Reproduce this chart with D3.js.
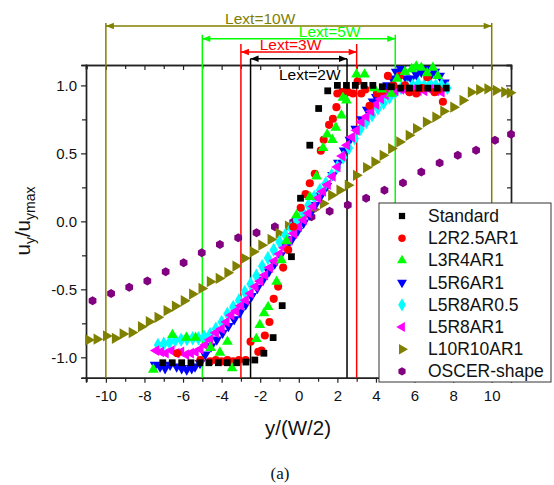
<!DOCTYPE html>
<html><head><meta charset="utf-8">
<script src="https://cdn.jsdelivr.net/npm/d3@7"></script>
<style>body{margin:0;background:#fff}svg{display:block}</style>
</head><body>
<script>
// ---------------- data ----------------
const stdX = [-7.05,-6.56,-6.07,-5.59,-5.12,-4.66,-4.17,-3.71,-3.22,-2.74,-2.28,-1.81,-1.33,-0.86,-0.38,0.09,0.57,1.03,1.50,2.0,2.47,2.93,3.38,3.84,4.33,4.80,5.28,5.74,6.22,6.69,7.17,7.64];
const stdY = [-1.04,-1.04,-1.04,-1.04,-1.04,-1.04,-1.04,-1.04,-1.04,-1.035,-1.02,-0.97,-0.855,-0.62,-0.26,0.17,0.56,0.83,0.96,1.0,1.0,1.0,1.0,1.0,0.99,0.99,0.98,0.98,0.98,0.98,0.98,0.98];

const redX = [-6.3,-5.1,-4.6,-4.3,-4.0,-3.7,-3.4,-3.1,-2.75,-2.5,-2.1,-1.93,-1.76,-1.52,-1.3,-1.07,-0.81,-0.55,-0.29,0.1,0.35,0.57,0.83,1.14,1.29,1.57,1.77,1.95,2.0,2.24,2.55,2.81,3.05,3.24,3.45,3.67,4.05,4.35,4.62,4.9,5.22,5.5,5.74,6.09,6.4,6.66,7.04,7.25,7.47];
const redY = [-0.97,-1.02,-1.03,-1.02,-1.03,-1.02,-1.03,-1.02,-1.02,-0.885,-0.96,-0.95,-0.84,-0.74,-0.57,-0.48,-0.34,-0.21,-0.04,0.1,0.2,0.28,0.35,0.52,0.6,0.71,0.755,0.84,0.94,0.95,0.95,0.94,1.03,0.94,0.97,0.85,0.94,0.96,1.07,1.0,1.07,1.0,0.95,0.94,0.98,1.06,0.95,0.97,0.88];

const greenX = [-7.54,-6.55,-5.83,-5.35,-4.57,-4.09,-3.7,-3.46,-2.2,-2.02,-1.8,-1.59,-1.15,-0.9,-0.64,-0.12,0.57,0.92,1.26,1.47,1.74,1.92,2.21,2.29,2.47,2.99,3.41,3.9,4.3,4.8,5.1,5.5,5.85,6.09,6.35,6.65,6.95,7.2];
const greenY = [-1.09,-0.835,-0.855,-0.855,-0.93,-0.965,-0.885,-1.08,-0.865,-0.762,-0.676,-0.63,-0.444,-0.285,-0.145,0.045,0.18,0.33,0.54,0.64,0.6,0.69,0.78,0.91,0.89,1.08,1.08,0.98,0.97,0.94,1.05,1.1,1.12,1.14,1.13,1.09,1.13,1.07];

const blueX = [-7.45,-7.19,-6.93,-6.67,-6.33,-6.07,-5.81,-5.55,-5.38,-5.12,-4.85,-4.55,-4.25,-3.95,-3.65,-3.35,-3.05,-2.75,-2.45,-2.15,-1.85,-1.55,-1.25,-0.95,-0.65,-0.35,-0.05,0.25,0.55,0.85,1.15,1.45,1.75,2.05,2.35,2.65,2.95,3.25,3.55,3.85,4.02,4.3,4.6,4.85,5.05,5.31,5.57,5.83,6.1,6.35,6.6,6.85,7.05,7.3,7.55];
const blueY = [-1.056,-1.068,-1.08,-1.056,-1.068,-1.08,-1.09,-1.08,-1.068,-1.043,-0.98,-0.92,-0.87,-0.82,-0.77,-0.72,-0.67,-0.61,-0.55,-0.49,-0.43,-0.37,-0.31,-0.25,-0.19,-0.13,-0.07,-0.01,0.05,0.12,0.19,0.26,0.34,0.43,0.52,0.6,0.68,0.75,0.82,0.88,0.914,0.95,1.0,1.05,1.1,1.12,1.05,1.05,1.08,1.1,1.12,1.08,1.1,1.07,1.02];

const cyanX = [-7.3,-7.0,-6.7,-6.4,-6.1,-5.8,-5.5,-5.2,-4.9,-4.6,-4.3,-4.0,-3.7,-3.4,-3.1,-2.8,-2.5,-2.2,-1.9,-1.6,-1.3,-1.0,-0.7,-0.4,-0.1,0.2,0.5,0.8,1.1,1.4,1.7,2.0,2.3,2.6,2.9,3.2,3.5,3.8,4.1,4.4,4.7,5.0,5.3,5.6,5.9,6.2,6.5,6.8,7.1,7.4,7.7];
const cyanY = [-0.91,-0.90,-0.89,-0.875,-0.87,-0.865,-0.86,-0.86,-0.85,-0.83,-0.79,-0.74,-0.68,-0.63,-0.58,-0.52,-0.46,-0.40,-0.33,-0.27,-0.21,-0.15,-0.10,-0.05,0.01,0.07,0.12,0.18,0.23,0.28,0.34,0.40,0.47,0.54,0.61,0.68,0.73,0.78,0.83,0.87,0.91,0.95,0.98,0.99,1.0,1.01,1.0,1.01,1.0,1.0,0.98];

const magX = [-7.4,-7.15,-6.9,-6.6,-6.35,-6.1,-5.85,-5.6,-5.35,-5.1,-4.85,-4.6,-4.3,-4.0,-3.75,-3.5,-3.25,-3.0,-2.75,-2.5,-2.25,-2.0,-1.75,-1.5,-1.25,-1.0,-0.75,-0.5,-0.25,0.0,0.25,0.5,0.75,1.0,1.25,1.5,1.75,2.0,2.25,2.5,2.75,3.0,3.25,3.5,3.75,4.0,4.25,4.5,4.75,5.0,5.3,5.6,5.9,6.2,6.5,6.8,7.1,7.4];
const magY = [-0.95,-0.96,-0.97,-0.95,-0.97,-0.96,-0.98,-0.97,-0.96,-0.94,-0.91,-0.87,-0.82,-0.79,-0.74,-0.69,-0.66,-0.62,-0.58,-0.53,-0.48,-0.44,-0.395,-0.34,-0.29,-0.24,-0.195,-0.14,-0.09,-0.04,0.01,0.06,0.11,0.17,0.22,0.27,0.33,0.40,0.48,0.56,0.62,0.67,0.73,0.77,0.81,0.86,0.90,0.93,0.95,0.96,0.97,0.96,0.97,0.96,0.96,0.97,0.96,0.95];

const oliveX = [-10.9,-10.47,-9.98,-9.52,-9.12,-8.65,-8.17,-7.76,-7.31,-6.84,-6.41,-5.95,-5.52,-5.03,-4.6,-4.14,-3.69,-3.27,-2.83,-2.36,-1.93,-1.45,-1.03,-0.55,-0.12,0.31,0.78,1.26,1.69,2.12,2.55,2.98,3.5,3.93,4.36,4.8,5.22,5.71,6.09,6.6,7.09,7.5,8.02,8.5,8.93,9.36,9.79,10.23,10.66,10.95];
const oliveY = [-0.872,-0.867,-0.843,-0.86,-0.828,-0.818,-0.775,-0.738,-0.706,-0.657,-0.623,-0.584,-0.535,-0.493,-0.444,-0.42,-0.378,-0.329,-0.272,-0.224,-0.175,-0.133,-0.089,-0.035,-0.004,0.045,0.087,0.131,0.192,0.229,0.266,0.339,0.396,0.437,0.486,0.535,0.584,0.633,0.682,0.73,0.767,0.81,0.84,0.89,0.95,0.968,0.975,0.963,0.951,0.945];

const purX = [-10.69,-9.73,-8.79,-7.85,-6.9,-5.97,-5.03,-4.09,-3.14,-2.19,-1.24,-0.29,0.66,1.6,2.54,3.49,4.44,5.4,6.35,7.3,8.24,9.19,10.17,11.0];
const purY = [-0.584,-0.53,-0.485,-0.439,-0.37,-0.305,-0.231,-0.17,-0.121,-0.084,-0.04,-0.004,0.033,0.075,0.12,0.17,0.229,0.283,0.363,0.43,0.486,0.523,0.596,0.64];

const xMajorTicks = [-10,-8,-6,-4,-2,0,2,4,6,8,10];
const xMinorTicks = [-11,-9,-7,-5,-3,-1,1,3,5,7,9];
const yMajorTicks = [-1.0,-0.5,0.0,0.5,1.0];
const yMinorTicks = [-0.75,-0.25,0.25,0.75];

const lextLabels = ["Lext=10W","Lext=5W","Lext=3W","Lext=2W"];
const lextHalf = [10, 5, 3, 2.5];

// ---------------- layout ----------------
const W = 554, H = 485;
const svg = d3.select("body").append("svg").attr("width", W).attr("height", H)
  .style("font-family", "'Liberation Sans', Arial, sans-serif");
svg.append("rect").attr("width", W).attr("height", H).attr("fill", "#fff");

const x = d3.scaleLinear().domain([-11.03, 11.0]).range([86, 511]);
const y = d3.scaleLinear().domain([-1.15, 1.15]).range([377.7, 65]);

const axisColor = "#222";
function styleAxis(g, fs) {
  g.select(".domain").attr("stroke", axisColor).attr("stroke-width", 1.4);
  g.selectAll(".tick line").attr("stroke", axisColor).attr("stroke-width", 1.2);
  g.selectAll(".tick text").attr("fill", "#111").style("font-size", fs + "px")
    .style("font-family", "'Liberation Sans', Arial, sans-serif");
}

// bottom
const gB = svg.append("g").attr("transform", `translate(0,${y.range()[0]})`)
  .call(d3.axisBottom(x).tickValues(xMajorTicks).tickSize(5).tickPadding(8).tickFormat(d => String(d)));
styleAxis(gB, 15);
const gBm = svg.append("g").attr("transform", `translate(0,${y.range()[0]})`)
  .call(d3.axisBottom(x).tickValues(xMinorTicks).tickSize(4).tickFormat(""));
styleAxis(gBm, 15);
// top
const gT = svg.append("g").attr("transform", `translate(0,${y.range()[1]})`)
  .call(d3.axisTop(x).tickValues(xMajorTicks).tickSize(-5).tickFormat(""));
styleAxis(gT, 15);
const gTm = svg.append("g").attr("transform", `translate(0,${y.range()[1]})`)
  .call(d3.axisTop(x).tickValues(xMinorTicks).tickSize(-4).tickFormat(""));
styleAxis(gTm, 15);
// left
const gL = svg.append("g").attr("transform", `translate(${x.range()[0]},0)`)
  .call(d3.axisLeft(y).tickValues(yMajorTicks).tickSize(5).tickPadding(4).tickFormat(d => d.toFixed(1)));
styleAxis(gL, 15);
const gLm = svg.append("g").attr("transform", `translate(${x.range()[0]},0)`)
  .call(d3.axisLeft(y).tickValues(yMinorTicks).tickSize(4).tickFormat(""));
styleAxis(gLm, 15);
// right
const gR = svg.append("g").attr("transform", `translate(${x.range()[1]},0)`)
  .call(d3.axisRight(y).tickValues(yMajorTicks).tickSize(-5).tickFormat(""));
styleAxis(gR, 15);
const gRm = svg.append("g").attr("transform", `translate(${x.range()[1]},0)`)
  .call(d3.axisRight(y).tickValues(yMinorTicks).tickSize(-4).tickFormat(""));
styleAxis(gRm, 15);

// ---------------- Lext annotations ----------------
const lextStyle = [
  {color: "#808000", arrowV: 1.437, topV: 1.459, textV: 1.448, textX: -2.0},
  {color: "#00ff00", arrowV: 1.343, topV: 1.373, textV: 1.354, textX: 1.6},
  {color: "#ff0000", arrowV: 1.246, topV: 1.304, textV: 1.262, textX: -0.43},
  {color: "#000000", arrowV: 1.196, topV: 1.196, textV: 1.04, textX: 0.57}
];
const gA = svg.append("g");
lextLabels.forEach((lab, i) => {
  const s = lextStyle[i], h = lextHalf[i];
  const x0 = x(-h), x1 = x(h), ay = y(s.arrowV), ty = y(s.topV), by = y.range()[0];
  gA.append("line").attr("x1", x0).attr("x2", x0).attr("y1", ty).attr("y2", by)
    .attr("stroke", s.color).attr("stroke-width", 1.5);
  gA.append("line").attr("x1", x1).attr("x2", x1).attr("y1", ty).attr("y2", by)
    .attr("stroke", s.color).attr("stroke-width", 1.5);
  gA.append("line").attr("x1", x0).attr("x2", x1).attr("y1", ay).attr("y2", ay)
    .attr("stroke", s.color).attr("stroke-width", 1.5);
  gA.append("path").attr("d", `M${x0},${ay}L${x0+8},${ay-3.2}L${x0+8},${ay+3.2}Z`).attr("fill", s.color);
  gA.append("path").attr("d", `M${x1},${ay}L${x1-8},${ay-3.2}L${x1-8},${ay+3.2}Z`).attr("fill", s.color);
  gA.append("text").attr("x", x(s.textX)).attr("y", y(s.textV)).attr("text-anchor", "middle")
    .attr("fill", s.color).style("font-size", "15.5px").text(lab);
});

// ---------------- series ----------------
const symbolHexagon = {
  draw(ctx, size) {
    const r = Math.sqrt(2 * size / (3 * Math.sqrt(3)));
    for (let i = 0; i < 6; i++) {
      const a = Math.PI / 3 * i + Math.PI / 6;
      const px = r * Math.cos(a), py = r * Math.sin(a);
      if (i === 0) ctx.moveTo(px, py); else ctx.lineTo(px, py);
    }
    ctx.closePath();
  }
};

const series = [
  {name: "Standard",     xs: stdX,   ys: stdY,   color: "#000000", type: d3.symbolSquare,   rot: 0,   size: 46},
  {name: "L2R2.5AR1",    xs: redX,   ys: redY,   color: "#ff0000", type: d3.symbolCircle,   rot: 0,   size: 52},
  {name: "L3R4AR1",      xs: greenX, ys: greenY, color: "#00ff00", type: d3.symbolTriangle, rot: 0,   size: 50},
  {name: "L5R6AR1",      xs: blueX,  ys: blueY,  color: "#0000ff", type: d3.symbolTriangle, rot: 180, size: 50},
  {name: "L5R8AR0.5",    xs: cyanX,  ys: cyanY,  color: "#00ffff", type: d3.symbolDiamond,  rot: 0,   size: 60},
  {name: "L5R8AR1",      xs: magX,   ys: magY,   color: "#ff00ff", type: d3.symbolTriangle, rot: -90, size: 50},
  {name: "L10R10AR1",    xs: oliveX, ys: oliveY, color: "#808000", type: d3.symbolTriangle, rot: 90,  size: 55},
  {name: "OSCER-shape",  xs: purX,   ys: purY,   color: "#800080", type: symbolHexagon,     rot: 0,   size: 52}
];
const drawOrder = [7, 6, 3, 4, 5, 1, 2, 0];
const gS = svg.append("g");
drawOrder.forEach(k => {
  const s = series[k];
  const pts = s.xs.map((v, i) => [v, s.ys[i]]);
  const sym = d3.symbol().type(s.type).size(s.size)();
  gS.append("g").selectAll("path").data(pts).join("path")
    .attr("d", sym)
    .attr("transform", d => `translate(${x(d[0])},${y(d[1])}) rotate(${s.rot})`)
    .attr("fill", s.color);
});

// ---------------- legend ----------------
const gLeg = svg.append("g");
gLeg.append("rect").attr("x", 379).attr("y", 203).attr("width", 172).attr("height", 179)
  .attr("fill", "#fff").attr("stroke", "#333").attr("stroke-width", 1);
series.forEach((s, i) => {
  const cy = 216 + i * 22.2;
  gLeg.append("path").attr("d", d3.symbol().type(s.type).size(s.size * 0.85)())
    .attr("transform", `translate(402,${cy}) rotate(${s.rot})`).attr("fill", s.color);
  gLeg.append("text").attr("x", 428).attr("y", cy + 6).attr("fill", "#111")
    .style("font-size", "17.5px").text(s.name);
});

// ---------------- titles ----------------
svg.append("text").attr("x", 298).attr("y", 435).attr("text-anchor", "middle")
  .attr("fill", "#111").style("font-size", "20.5px").text("y/(W/2)");

const yt = svg.append("text").attr("transform", "translate(30,221) rotate(-90)")
  .attr("text-anchor", "middle").attr("fill", "#111").style("font-size", "20.5px");
yt.append("tspan").text("u");
yt.append("tspan").attr("dy", 5).style("font-size", "14px").text("y");
yt.append("tspan").attr("dy", -5).text("/u");
yt.append("tspan").attr("dy", 5).style("font-size", "14px").text("ymax");

svg.append("text").attr("x", 280).attr("y", 479).attr("text-anchor", "middle")
  .attr("fill", "#111").style("font-family", "'Liberation Serif', 'Times New Roman', serif")
  .style("font-size", "17px").text("(a)");
</script>
</body></html>
